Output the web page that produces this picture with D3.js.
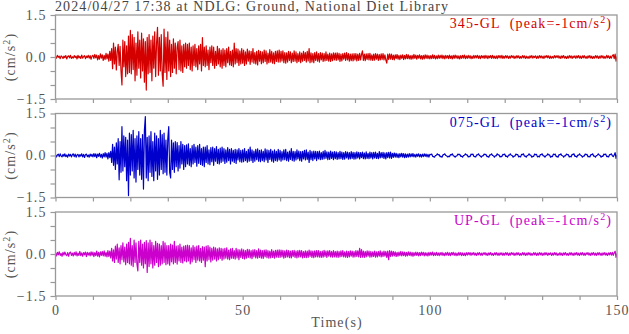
<!DOCTYPE html>
<html><head><meta charset="utf-8">
<script src="https://cdn.jsdelivr.net/npm/d3@7"></script>
<style>body{margin:0;background:#fff}svg{display:block}</style>
</head><body><svg id="c" width="629" height="334"></svg>
<script>
const title = "2024/04/27 17:38 at NDLG: Ground, National Diet Library";
const tMax = 150;
const xTicks = [0,10,20,30,40,50,60,70,80,90,100,110,120,130,140,150];
const xLabels = [0,50,100,150];
const yTicks = [-1.5,-1,-0.5,0,0.5,1,1.5];
const yLabels = [-1.5,0,1.5];
const channels = ["345-GL","075-GL","UP-GL"];
const peaks = ["-1","-1","-1"];
const colors = ["#d40000","#0000cc","#cc00cc"];
// acceleration samples every 0.25 s, 0..150 s
const red = [
0.02,-0.04,0.06,-0.01,0.03,-0.06,0.04,0.01,-0.05,0.03,-0.02,0.05,-0.07,0.02,0.04,-0.03,0.06,-0.05,0.01,-0.04,
0.05,-0.02,0.03,-0.07,0.06,-0.03,0.02,-0.05,0.07,-0.04,0.01,0.05,-0.06,0.03,-0.02,0.06,-0.04,0.05,-0.08,0.03,
0.06,-0.05,0.09,-0.03,0.07,-0.1,0.05,-0.08,0.11,-0.04,0.08,-0.12,0.06,-0.09,0.13,-0.07,0.1,-0.15,0.2,-0.12,
0.3,-0.42,0.5,-0.25,0.35,-0.46,0.2,0.45,-0.3,0.38,-0.5,-1.0,0.6,-0.35,0.55,-0.7,0.4,-0.6,0.75,-0.55,
0.95,-0.6,0.8,-0.45,0.7,-0.85,0.5,-0.65,0.9,-0.4,0.6,-0.75,0.85,-0.5,0.65,-0.9,0.55,-1.18,0.7,-0.6,
0.8,-0.55,0.6,-0.85,0.75,-0.4,0.9,-0.7,0.5,1.06,-0.65,0.7,-0.5,0.8,-0.6,-1.04,1.0,-0.55,0.7,-0.8,
0.9,-0.5,0.6,-0.7,0.45,-0.55,0.65,-0.4,0.5,-0.6,0.35,0.55,-0.45,0.6,-0.5,0.4,-0.55,0.45,-0.35,0.5,
-0.4,0.45,-0.3,0.5,-0.45,0.35,-0.5,0.4,-0.3,0.45,-0.35,0.3,-0.45,0.4,-0.25,0.45,-0.5,0.69,-0.3,0.35,
-0.35,0.4,-0.3,0.25,-0.45,0.35,-0.2,0.4,-0.3,0.35,-0.4,0.2,-0.3,0.38,-0.25,0.3,-0.35,0.25,-0.4,0.3,
-0.3,0.25,-0.35,0.3,-0.2,0.35,-0.28,0.2,-0.3,0.25,-0.35,0.5,-0.25,0.3,-0.2,0.28,-0.3,0.22,-0.25,0.3,
-0.22,0.25,-0.3,0.18,-0.25,0.28,-0.15,0.22,-0.26,0.2,-0.18,0.3,-0.22,0.16,-0.25,0.2,-0.28,0.24,-0.15,0.2,
-0.24,0.18,-0.2,0.25,-0.16,0.22,-0.25,0.14,-0.2,0.26,-0.18,0.2,-0.22,0.15,-0.24,0.2,-0.16,0.22,-0.18,0.25,
-0.18,0.2,-0.14,0.22,-0.2,0.16,-0.22,0.15,-0.18,0.2,-0.12,0.18,-0.2,0.14,-0.16,0.22,-0.15,0.18,-0.2,0.12,
-0.16,0.18,-0.2,0.14,-0.15,0.2,-0.12,0.16,-0.18,0.2,-0.14,0.3,-0.2,0.15,-0.18,0.12,-0.2,0.16,-0.12,0.18,
-0.15,0.12,-0.18,0.16,-0.1,0.14,-0.16,0.12,-0.14,0.18,-0.12,0.1,-0.15,0.14,-0.16,0.11,-0.13,0.15,-0.1,0.14,
-0.12,0.15,-0.1,0.13,-0.16,0.1,-0.14,0.12,-0.08,0.14,-0.12,0.16,-0.1,0.12,-0.15,0.1,-0.13,0.11,-0.14,0.12,
-0.1,0.12,-0.14,0.1,-0.12,0.13,-0.1,0.09,0.22,-0.12,0.1,-0.13,0.11,-0.09,0.12,-0.1,0.13,-0.11,0.08,-0.12,
0.1,-0.11,0.12,-0.08,0.1,-0.12,0.09,-0.1,0.11,-0.09,0.12,-0.1,0.08,-0.11,-0.22,0.1,-0.09,0.11,-0.08,0.1,
-0.09,0.07,-0.1,0.08,-0.06,0.09,-0.08,0.06,-0.09,0.07,-0.05,0.08,-0.09,0.06,-0.07,0.09,-0.06,0.08,-0.07,0.05,
-0.08,0.06,-0.07,0.09,-0.05,0.07,-0.08,0.06,-0.04,0.08,-0.07,0.05,-0.08,0.06,-0.07,0.08,-0.05,0.07,-0.06,0.05,
-0.07,0.05,-0.06,0.08,-0.05,0.06,-0.07,0.04,-0.06,0.07,-0.05,0.06,-0.04,0.07,-0.06,0.05,-0.07,0.06,-0.04,0.05,
-0.06,0.07,-0.05,0.04,-0.07,0.06,-0.05,0.07,-0.04,0.05,-0.06,0.04,-0.07,0.05,-0.05,0.06,-0.04,0.07,-0.06,0.04,
-0.05,0.06,-0.04,0.05,-0.06,0.03,-0.05,0.06,-0.04,0.05,-0.03,0.06,-0.05,0.04,-0.06,0.05,-0.03,0.04,-0.05,0.06,
-0.04,0.05,-0.06,0.04,-0.03,0.05,-0.05,0.06,-0.04,0.03,-0.05,0.04,-0.06,0.05,-0.03,0.05,-0.04,0.06,-0.05,0.03,
-0.04,0.05,-0.03,0.04,-0.05,0.03,-0.04,0.05,-0.02,0.04,-0.05,0.03,-0.04,0.05,-0.03,0.04,-0.05,0.02,-0.04,0.05,
-0.03,0.04,-0.05,0.03,-0.04,0.02,-0.05,0.04,-0.03,0.05,-0.04,0.03,-0.02,0.04,-0.05,0.03,-0.04,0.05,-0.03,0.04,
-0.04,0.03,-0.05,0.04,-0.02,0.05,-0.03,0.04,-0.05,0.03,-0.04,0.02,-0.04,0.05,-0.03,0.04,-0.02,0.05,-0.04,0.03,
-0.05,0.04,-0.03,0.05,-0.04,0.02,-0.05,0.03,-0.04,0.05,-0.03,0.04,-0.05,0.03,-0.02,0.04,-0.05,0.04,-0.03,0.05,
-0.04,0.03,-0.05,0.04,-0.03,0.05,-0.04,0.02,-0.05,0.04,-0.03,0.05,-0.04,0.03,-0.05,0.02,-0.04,0.05,-0.03,0.04,
-0.05,0.03,-0.04,0.05,-0.03,0.04,-0.05,0.02,-0.04,0.06,-0.03,0.04,-0.05,0.03,-0.04,0.05,0.08,-0.06,0.1,-0.15,
0.02];
const blue = [
0.03,-0.05,0.02,0.05,-0.04,0.06,-0.02,-0.05,0.04,-0.03,0.06,-0.04,0.02,-0.06,0.05,-0.02,0.04,-0.05,0.03,0.06,
-0.04,0.05,-0.06,0.02,0.04,-0.05,0.03,-0.02,0.06,-0.05,0.04,-0.07,0.03,0.05,-0.04,0.02,-0.06,0.05,-0.03,0.04,
-0.05,0.07,-0.04,0.06,-0.08,0.05,-0.03,0.08,-0.06,0.04,-0.09,0.07,-0.05,0.1,-0.06,0.08,-0.12,0.1,-0.08,0.15,
-0.25,0.4,-0.35,0.3,-0.5,0.45,-0.3,0.6,-0.87,0.5,-0.6,1.03,-0.55,0.7,-0.4,0.65,-0.9,0.55,-1.43,0.8,
-0.7,0.75,-0.55,0.9,-0.8,0.6,-0.95,0.7,-0.5,0.85,-0.7,0.6,-0.85,0.75,-1.2,0.9,1.39,-0.8,0.65,-0.9,
0.7,-0.6,0.85,-0.75,0.5,-0.9,0.8,-0.55,0.7,-0.85,0.6,-0.7,0.9,-0.5,0.75,-0.65,0.8,-0.6,0.55,-0.7,
0.6,1.03,-0.6,-0.8,0.55,-0.5,0.45,-0.6,0.5,-0.4,0.46,-0.55,0.35,-0.45,0.5,-0.3,0.4,-0.5,0.35,-0.4,
0.38,-0.3,0.42,-0.35,0.25,-0.4,0.35,-0.3,0.4,-0.25,0.3,-0.38,0.35,-0.28,0.4,-0.32,0.25,-0.35,0.3,-0.4,
0.3,-0.25,0.35,-0.3,0.2,-0.33,0.28,-0.22,0.3,-0.35,0.25,-0.2,0.32,-0.28,0.22,-0.3,0.26,-0.25,0.3,-0.2,
0.25,-0.28,0.2,-0.24,0.28,-0.18,0.22,-0.3,0.25,-0.2,0.18,-0.25,0.22,-0.28,0.2,-0.16,0.25,-0.22,0.18,-0.24,
0.2,-0.22,0.25,-0.18,0.15,-0.24,0.22,-0.2,0.3,-0.18,0.2,-0.25,0.16,-0.2,0.22,-0.15,0.24,-0.2,0.18,-0.22,
0.2,-0.18,0.15,-0.22,0.24,-0.16,0.2,-0.25,0.18,-0.14,0.22,-0.2,0.16,-0.24,0.2,-0.18,0.15,-0.2,0.22,-0.16,
0.18,-0.2,0.14,-0.16,0.2,-0.15,0.22,-0.18,0.12,-0.2,0.16,-0.14,0.25,-0.18,0.15,-0.2,0.14,-0.16,0.2,-0.12,
0.16,-0.18,0.14,-0.2,0.15,-0.12,0.18,-0.16,0.2,-0.14,0.12,-0.25,0.18,-0.15,0.14,-0.18,0.16,-0.12,0.15,-0.18,
0.14,-0.12,0.16,-0.15,0.1,-0.14,0.15,-0.12,0.18,-0.1,0.13,-0.15,0.12,-0.14,0.16,-0.1,0.12,-0.15,0.14,-0.11,
0.13,-0.14,0.1,-0.12,0.15,-0.11,0.12,-0.14,0.1,-0.13,0.14,-0.09,0.12,-0.13,0.1,-0.12,0.14,-0.1,0.11,-0.13,
0.1,-0.12,0.13,-0.09,0.11,-0.12,0.1,-0.08,0.12,-0.11,0.09,-0.12,0.13,-0.1,0.08,-0.11,0.12,-0.09,0.1,-0.12,
0.11,-0.09,0.12,-0.1,0.08,-0.11,0.14,-0.09,0.1,-0.08,0.11,-0.1,0.09,-0.12,0.1,-0.08,0.11,-0.09,0.12,-0.1,
0.08,-0.07,0.09,-0.06,0.08,-0.07,0.06,-0.08,0.07,-0.05,0.08,-0.06,0.07,-0.08,0.06,-0.07,0.05,-0.06,0.07,-0.05,
0.06,-0.04,0.07,-0.05,0.04,-0.06,0.05,-0.03,0.06,-0.05,0.04,-0.06,0.05,-0.04,0.06,-0.03,0.05,-0.05,0.04,-0.06,
0.04,0.03,0.05,-0.03,-0.04,-0.06,0.0,0.01,0.06,0.02,0.03,-0.04,-0.03,-0.06,0.02,0.03,0.06,0.0,-0.01,-0.05,
-0.03,-0.04,0.03,0.02,0.06,-0.01,-0.02,-0.06,-0.02,-0.01,0.05,0.03,0.04,-0.03,-0.02,-0.06,0.0,0.01,0.06,0.02,
0.02,-0.05,-0.03,-0.04,0.05,0.03,0.05,-0.03,-0.04,-0.05,0.02,0.02,0.06,0.0,-0.02,-0.06,-0.01,-0.01,0.05,0.03,
0.04,-0.04,-0.03,-0.06,0.02,0.02,0.06,0.0,-0.01,-0.06,-0.01,-0.01,0.06,0.02,0.02,-0.05,-0.03,-0.04,0.04,0.03,
0.05,-0.03,-0.02,-0.06,0.01,0.01,0.06,0.01,0.0,-0.06,-0.02,-0.02,0.05,0.03,0.03,-0.05,-0.03,-0.05,0.04,0.03,
0.06,-0.02,-0.02,-0.06,0.0,0.01,0.06,0.01,0.01,-0.06,-0.03,-0.03,0.05,0.03,0.04,-0.05,-0.03,-0.05,0.03,0.03,
0.06,-0.01,-0.01,-0.06,-0.01,0.0,0.06,0.02,0.02,-0.06,-0.03,-0.04,0.05,0.03,0.05,-0.04,-0.03,-0.06,0.03,0.02,
0.06,0.0,-0.01,-0.06,-0.01,-0.01,0.05,0.03,0.03,-0.05,-0.03,-0.05,0.04,0.03,0.06,-0.03,-0.02,-0.06,0.01,0.01,
0.06,0.01,0.0,-0.06,-0.02,-0.02,0.05,0.03,0.04,-0.05,-0.03,-0.05,0.03,0.03,0.06,-0.02,-0.02,-0.06,0.0,0.01,
0.06,0.02,0.0,-0.06,-0.02,-0.03,0.05,0.03,0.05,-0.04,-0.03,-0.05,0.03,0.03,0.06,-0.01,-0.04,0.02,0.1,-0.1,
0.03];
const magenta = [
0.04,-0.07,0.06,-0.03,0.08,-0.05,0.02,-0.08,0.06,-0.04,0.07,-0.02,-0.06,0.05,-0.08,0.04,0.07,-0.05,0.03,-0.07,
0.06,-0.04,0.08,-0.07,0.03,-0.05,0.09,-0.06,0.04,-0.08,0.05,-0.03,0.07,-0.09,0.06,-0.04,0.05,-0.07,0.08,-0.05,
0.07,-0.09,0.05,-0.06,0.1,-0.08,0.06,-0.1,0.08,-0.05,0.09,-0.07,0.11,-0.08,0.06,-0.1,0.12,-0.09,0.1,-0.14,
0.2,-0.25,0.15,-0.3,0.28,-0.18,0.35,-0.3,0.22,-0.35,0.3,-0.2,0.4,-0.28,0.25,-0.38,0.35,-0.3,0.42,-0.35,
0.56,-0.4,0.3,-0.45,0.5,-0.3,0.4,-0.35,-0.6,0.45,-0.3,0.5,-0.4,0.35,-0.5,0.42,-0.35,0.48,-0.66,0.4,
-0.45,0.5,-0.35,0.42,-0.5,0.3,-0.4,0.45,-0.3,0.38,-0.45,0.35,-0.4,0.3,-0.35,0.45,-0.3,0.4,-0.38,0.3,
-0.35,0.3,-0.4,0.35,-0.28,0.32,-0.35,0.45,-0.3,0.28,-0.36,0.3,-0.25,0.35,-0.3,0.25,-0.32,0.28,-0.25,0.3,
-0.28,0.32,-0.25,0.3,-0.35,0.22,-0.28,0.3,-0.2,0.25,-0.3,0.28,-0.22,0.3,-0.25,0.2,-0.3,0.26,-0.22,0.25,
-0.45,0.28,-0.25,0.3,-0.2,0.25,-0.28,0.2,-0.22,0.25,-0.18,0.22,-0.25,0.18,-0.2,0.22,-0.16,0.2,-0.22,0.18,
-0.18,0.2,-0.15,0.22,-0.18,0.14,-0.2,0.18,-0.15,0.2,-0.16,0.12,-0.18,0.2,-0.14,0.16,-0.2,0.15,-0.12,0.18,
-0.16,0.15,-0.18,0.12,-0.15,0.17,-0.12,0.16,-0.14,0.12,-0.17,0.15,-0.1,0.16,-0.14,0.12,-0.15,0.18,-0.12,0.14,
-0.15,0.12,-0.16,0.14,-0.1,0.15,-0.13,0.12,-0.15,0.1,-0.14,0.16,-0.12,0.1,-0.15,0.13,-0.11,0.14,-0.12,0.15,
-0.12,0.14,-0.1,0.13,-0.15,0.11,-0.12,0.14,-0.1,0.12,-0.13,0.1,-0.14,0.12,-0.09,0.13,-0.12,0.1,-0.14,0.12,
-0.11,0.13,-0.1,0.12,-0.14,0.09,-0.12,0.11,-0.13,0.1,-0.12,0.14,-0.09,0.11,-0.12,0.1,-0.13,0.11,-0.1,0.12,
-0.1,0.12,-0.11,0.09,-0.12,0.1,-0.11,0.13,-0.09,0.1,-0.12,0.11,-0.08,0.12,-0.1,0.09,-0.11,0.12,-0.1,0.09,
-0.11,0.1,-0.12,0.09,-0.1,0.11,-0.09,0.12,-0.1,0.08,-0.11,0.1,-0.12,0.09,-0.1,0.11,-0.08,0.1,-0.11,0.09,
-0.1,0.12,-0.09,0.11,-0.1,0.2,-0.12,0.16,-0.11,0.1,-0.12,0.09,-0.1,0.11,-0.08,0.1,-0.11,0.09,-0.1,0.08,
-0.09,0.1,-0.11,0.08,-0.1,0.09,-0.08,0.11,-0.1,0.08,-0.09,0.1,-0.08,0.09,-0.12,0.1,-0.2,0.12,-0.09,0.1,
-0.08,0.09,-0.07,0.08,-0.09,0.06,-0.08,0.07,-0.06,0.09,-0.07,0.08,-0.06,0.07,-0.08,0.06,-0.07,0.08,-0.05,0.07,
-0.07,0.06,-0.08,0.05,-0.06,0.07,-0.05,0.06,-0.07,0.05,-0.06,0.07,-0.04,0.06,-0.07,0.05,-0.06,0.04,-0.07,0.06,
-0.05,0.06,-0.04,0.07,-0.06,0.04,-0.05,0.06,-0.05,0.04,-0.06,0.05,-0.04,0.06,-0.05,0.03,-0.06,0.05,-0.04,0.06,
-0.05,0.04,-0.06,0.05,-0.03,0.06,-0.05,0.04,-0.06,0.03,-0.05,0.06,-0.04,0.05,-0.06,0.04,-0.05,0.03,-0.06,0.05,
-0.04,0.05,-0.03,0.05,-0.05,0.04,-0.03,0.05,-0.04,0.03,-0.05,0.04,-0.03,0.05,-0.04,0.03,-0.05,0.04,-0.02,0.05,
-0.04,0.03,-0.05,0.04,-0.03,0.05,-0.04,0.02,-0.05,0.04,-0.03,0.05,-0.04,0.03,-0.05,0.04,-0.03,0.04,-0.05,0.03,
-0.04,0.05,-0.03,0.04,-0.05,0.03,-0.04,0.05,-0.02,0.04,-0.05,0.03,-0.04,0.05,-0.03,0.04,-0.05,0.02,-0.04,0.05,
-0.03,0.04,-0.05,0.03,-0.04,0.05,-0.03,0.04,-0.05,0.02,-0.04,0.05,-0.03,0.04,-0.05,0.03,-0.04,0.05,-0.03,0.04,
-0.05,0.03,-0.04,0.05,-0.03,0.04,-0.05,0.03,-0.02,0.04,-0.05,0.03,-0.04,0.05,-0.03,0.04,-0.05,0.02,-0.04,0.05,
-0.04,0.03,-0.05,0.04,-0.03,0.05,-0.04,0.02,-0.05,0.04,-0.03,0.05,-0.04,0.03,-0.05,0.04,-0.03,0.05,-0.04,0.03,
-0.05,0.04,-0.03,0.05,-0.04,0.03,-0.05,0.04,-0.02,0.05,-0.04,0.03,-0.05,0.04,-0.03,0.05,-0.04,0.03,-0.05,0.04,
-0.03,0.05,-0.04,0.03,-0.05,0.04,-0.03,0.05,-0.04,0.03,-0.05,0.04,-0.03,0.05,-0.04,0.06,-0.05,0.04,0.1,-0.12,
0.02];
const series = [red, blue, magenta];

const svg = d3.select("#c");
const FONT = "'Liberation Serif','Times New Roman',serif";
const LS = "1.1px";
const X0 = 55.5, X1 = 617, panelH = 84;
const tops = [15, 113.5, 212];
const x = d3.scaleLinear().domain([0, tMax]).range([X0, X1]);
const axisColor = "#999", textColor = "#555";

svg.append("text").attr("x", 55).attr("y", 10.5).attr("font-family", FONT)
  .attr("font-size", 14).attr("textLength", 393).attr("lengthAdjust", "spacing")
  .attr("fill", "#444").text(title);

series.forEach((vals, k) => {
  const top = tops[k], bot = top + panelH;
  const y = d3.scaleLinear().domain([-1.5,1.5]).range([bot, top]);
  const dt = tMax / (vals.length - 1);
  const g = svg.append("g");
  const clipId = "clip" + k;
  svg.append("clipPath").attr("id", clipId).append("rect")
    .attr("x", X0).attr("y", top).attr("width", X1 - X0).attr("height", panelH);
  const line = d3.line().x((d,i) => x(i*dt)).y(d => y(d));
  g.append("path").datum(vals).attr("clip-path", `url(#${clipId})`)
    .attr("d", line).attr("fill", "none").attr("stroke", colors[k])
    .attr("stroke-width", 1.2).attr("stroke-linejoin", "round");
  g.append("rect").attr("x", X0).attr("y", top).attr("width", X1 - X0).attr("height", panelH)
    .attr("fill", "none").attr("stroke", axisColor).attr("stroke-width", 1.3);
  const yAxis = d3.axisLeft(y).tickValues(yTicks).tickSize(5).tickPadding(4)
    .tickFormat(d => yLabels.includes(d) ? d3.format(".1f")(d) : "");
  const ya = g.append("g").attr("transform", `translate(${X0},0)`).call(yAxis);
  const xAxis = d3.axisBottom(x).tickValues(xTicks).tickSize(4).tickPadding(5)
    .tickFormat(d => (k === 2 && xLabels.includes(d)) ? d : "");
  const xa = g.append("g").attr("transform", `translate(0,${bot})`).call(xAxis);
  [ya, xa].forEach(a => {
    a.select(".domain").remove();
    a.selectAll(".tick line").attr("stroke", axisColor).attr("stroke-width", 1.2);
    a.selectAll(".tick text").attr("font-family", FONT).attr("font-size", 14)
      .attr("letter-spacing", LS).attr("fill", textColor);
  });
  const lab = g.append("text").attr("x", 612).attr("y", top + 13).attr("text-anchor", "end")
    .attr("font-family", FONT).attr("font-size", 14).attr("letter-spacing", LS).attr("fill", colors[k]);
  lab.append("tspan").text(`${channels[k]}\u00a0\u00a0(peak=${peaks[k]}cm/s`);
  lab.append("tspan").attr("dy", -5).attr("font-size", 10).text("2");
  lab.append("tspan").attr("dy", 5).text(")");
  const yl = g.append("text").attr("transform", `translate(15,${y(0)}) rotate(-90)`)
    .attr("text-anchor", "middle").attr("font-family", FONT).attr("font-size", 14)
    .attr("letter-spacing", LS).attr("fill", textColor);
  yl.append("tspan").text("(cm/s");
  yl.append("tspan").attr("dy", -5).attr("font-size", 10).text("2");
  yl.append("tspan").attr("dy", 5).text(")");
});

svg.append("text").attr("x", 337).attr("y", 327).attr("text-anchor", "middle")
  .attr("font-family", FONT).attr("font-size", 14).attr("letter-spacing", LS)
  .attr("fill", textColor).text("Time(s)");
</script></body></html>
